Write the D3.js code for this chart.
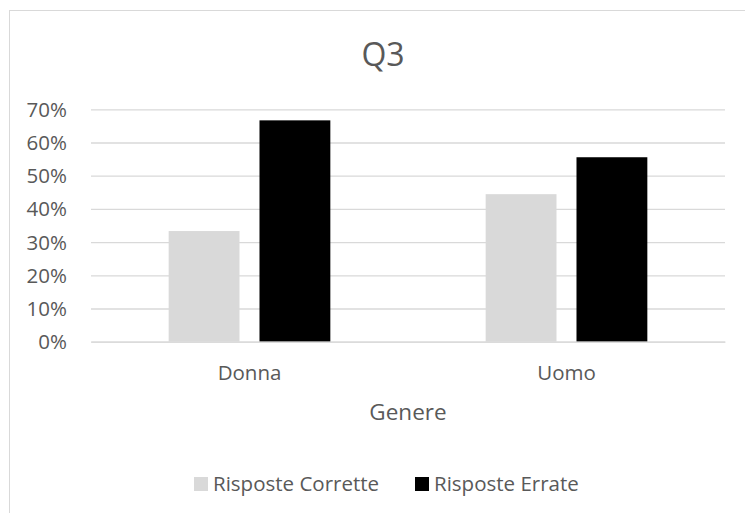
<!DOCTYPE html>
<html>
<head>
<meta charset="utf-8">
<script src="https://cdn.jsdelivr.net/npm/d3@7/dist/d3.min.js"></script>
<style>
  html, body { margin: 0; padding: 0; background: #ffffff; }
  svg { display: block; }
  text { font-family: "Open Sans", "Noto Sans", sans-serif; fill: #595959; }
</style>
</head>
<body>
<svg id="chart" width="745" height="513"></svg>
<script>
// Chart data
const title = "Q3";
const categories = ["Donna", "Uomo"];
const seriesNames = ["Risposte Corrette", "Risposte Errate"];
const corrette = [0.3333, 0.4444];
const errate = [0.6667, 0.5556];
const yTicks = [0, 0.1, 0.2, 0.3, 0.4, 0.5, 0.6, 0.7];
const xAxisTitle = "Genere";
const seriesColors = ["#d9d9d9", "#000000"];

const seriesValues = [corrette, errate];
const rows = categories.map((c, i) => ({
  category: c,
  values: seriesNames.map((s, j) => ({ series: s, value: seriesValues[j][i] }))
}));

const svg = d3.select("#chart");

// Chart frame (right and bottom edges fall outside the visible area)
svg.append("rect")
  .attr("x", 9.5).attr("y", 10.5)
  .attr("width", 760).attr("height", 520)
  .attr("fill", "#ffffff")
  .attr("stroke", "#d9d9d9").attr("stroke-width", 1);

const plot = { left: 91, right: 725, top: 109.3, bottom: 341.7 };

const y = d3.scaleLinear().domain([0, 0.7]).range([plot.bottom, plot.top]);
const x0 = d3.scaleBand().domain(categories).range([plot.left, plot.right]).padding(0);
const bw = x0.bandwidth();
const x1 = d3.scaleBand().domain(seriesNames)
  .range([bw * 0.245, bw * 0.755]).paddingInner(0.22).paddingOuter(0);
const color = d3.scaleOrdinal().domain(seriesNames).range(seriesColors);

// Horizontal gridlines
const grid = svg.append("g")
  .attr("transform", `translate(${plot.left},0)`)
  .call(d3.axisLeft(y).tickValues(yTicks).tickSize(-(plot.right - plot.left)).tickFormat(""));
grid.select(".domain").remove();
grid.selectAll(".tick line").attr("stroke", "#d9d9d9").attr("stroke-width", 1.3);

// Y axis labels
const yAxis = svg.append("g")
  .attr("transform", `translate(67,0)`)
  .call(d3.axisLeft(y).tickValues(yTicks).tickSize(0).tickPadding(0).tickFormat(d3.format(".0%")));
yAxis.select(".domain").remove();
yAxis.selectAll("text")
  .style("font-family", "'Open Sans', sans-serif")
  .attr("font-size", 20.5).attr("fill", "#595959")
  .attr("dy", "0.34em");

// Bars
const groups = svg.append("g").selectAll("g")
  .data(rows).join("g")
  .attr("transform", d => `translate(${x0(d.category)},0)`);
groups.selectAll("rect")
  .data(d => d.values).join("rect")
  .attr("x", d => x1(d.series))
  .attr("y", d => y(d.value))
  .attr("width", x1.bandwidth())
  .attr("height", d => y(0) - y(d.value))
  .attr("fill", d => color(d.series));

// X axis baseline and category labels
const xAxis = svg.append("g")
  .attr("transform", `translate(0,${plot.bottom})`)
  .call(d3.axisBottom(x0).tickSize(0).tickPadding(0));
xAxis.select(".domain").attr("stroke", "#d9d9d9").attr("stroke-width", 1.3);
xAxis.selectAll("text")
  .style("font-family", "'Open Sans', sans-serif")
  .attr("font-size", 20.5).attr("fill", "#595959")
  .attr("y", 380 - plot.bottom).attr("dy", 0);

// Title
svg.append("text")
  .attr("x", 383).attr("y", 66)
  .attr("text-anchor", "middle")
  .attr("font-size", 32)
  .text(title);

// X axis title
svg.append("text")
  .attr("x", (plot.left + plot.right) / 2).attr("y", 420)
  .attr("text-anchor", "middle")
  .attr("font-size", 22.5)
  .text(xAxisTitle);

// Legend
const legendX = [194, 415];
const legend = svg.append("g").selectAll("g")
  .data(seriesNames).join("g")
  .attr("transform", (d, i) => `translate(${legendX[i]},0)`);
legend.append("rect")
  .attr("x", 0).attr("y", 477).attr("width", 14).attr("height", 14)
  .attr("fill", d => color(d));
legend.append("text")
  .attr("x", 19).attr("y", 491)
  .attr("font-size", 20.5)
  .text(d => d);
</script>
</body>
</html>
